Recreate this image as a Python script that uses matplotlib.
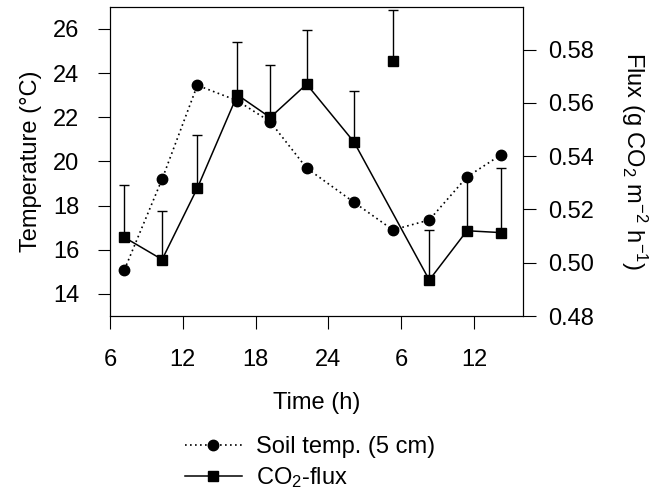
import numpy as np
import matplotlib.pyplot as plt

plt.rcParams["font.family"] = ["Liberation Sans", "DejaVu Sans"]
plt.rcParams["mathtext.fontset"] = "custom"
plt.rcParams["mathtext.rm"] = "Liberation Sans"
plt.rcParams["mathtext.it"] = "Liberation Sans:italic"
plt.rcParams["mathtext.bf"] = "Liberation Sans:bold"

# Sampling times (continuous hours, second day continues past 24)
hours = np.array([7.2, 10.3, 13.2, 16.5, 19.2, 22.2, 26.1, 29.3, 32.3, 35.4, 38.2])

# Soil temperature at 5 cm (°C)
soil_temp = np.array([15.1, 19.2, 23.45, 22.75, 21.8, 19.7, 18.15, 16.9, 17.35, 19.3, 20.3])

# CO2 flux (g CO2 m-2 h-1) and its upper error
co2_flux = np.array([0.5095, 0.5012, 0.528, 0.563, 0.5545, 0.567, 0.5453, 0.5757, 0.4935, 0.512, 0.5113])
co2_flux_sd = np.array([0.0196, 0.0183, 0.0199, 0.0197, 0.0197, 0.0205, 0.0191, 0.0190, 0.0187, 0.0201, 0.0241])
# the 06 h flux value is shown but not joined to the line
flux_in_line = np.array([True, True, True, True, True, True, True, False, True, True, True])

time_ticks = [6, 12, 18, 24, 30, 36]
time_tick_labels = ["6", "12", "18", "24", "6", "12"]
temp_ticks = [14, 16, 18, 20, 22, 24, 26]
flux_ticks = [0.48, 0.50, 0.52, 0.54, 0.56, 0.58]

fs = 17

fig = plt.figure(figsize=(6.66, 4.93), dpi=100)
ax = fig.add_axes([0.165, 0.359, 0.620, 0.627])
ax2 = ax.twinx()

# Soil temperature
(l_temp,) = ax.plot(
    hours, soil_temp, color="k", linestyle=(0, (1, 2)), linewidth=1.2,
    marker="o", markersize=7.5,
)

# CO2 flux with upward error bars
ax2.vlines(hours, co2_flux, co2_flux + co2_flux_sd, color="k", linewidth=1)
ax2.plot(hours, co2_flux + co2_flux_sd, linestyle="none", marker="_",
         markersize=7.5, markeredgewidth=1, color="k")
(l_flux,) = ax2.plot(
    hours[flux_in_line], co2_flux[flux_in_line], color="k", linewidth=1.1,
    marker="s", markersize=7,
)
ax2.plot(hours[~flux_in_line], co2_flux[~flux_in_line], color="k",
         linestyle="none", marker="s", markersize=7)

# Axes
ax.set_xlim(6, 40)
ax.set_ylim(13, 27)
ax2.set_ylim(0.48, 0.596)

ax.set_xticks(time_ticks)
ax.set_xticklabels(time_tick_labels)
ax.set_yticks(temp_ticks)
ax2.set_yticks(flux_ticks)
ax2.set_yticklabels([f"{v:.2f}" for v in flux_ticks])

ax.tick_params(axis="both", direction="out", length=9, width=0.8,
               labelsize=fs, pad=13)
ax.tick_params(axis="x", pad=15)
ax2.tick_params(axis="y", direction="out", length=9, width=0.8,
                labelsize=fs, pad=9)

for a in (ax, ax2):
    for s in a.spines.values():
        s.set_linewidth(0.8)

ax.set_xlabel("Time (h)", fontsize=fs, labelpad=15)
ax.set_ylabel("Temperature (°C)", fontsize=fs, labelpad=8)
ax2.set_ylabel(r"Flux (g CO$_2$ m$^{-2}$ h$^{-1}$)", fontsize=fs,
               rotation=270, va="bottom", labelpad=18)

fig.legend(
    handles=[l_temp, l_flux],
    labels=["Soil temp. (5 cm)", r"CO$_2$-flux"],
    loc="upper left", bbox_to_anchor=(0.278, 0.116),
    frameon=False, fontsize=fs, handlelength=2.4, handletextpad=0.6,
    borderpad=0, borderaxespad=0, labelspacing=0.3, numpoints=1,
)

fig.savefig("out.png", dpi=100)
